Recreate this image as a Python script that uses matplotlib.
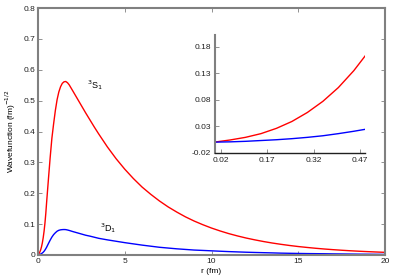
import matplotlib
matplotlib.use("Agg")
import matplotlib.pyplot as plt

plt.rcParams['font.family'] = ['Liberation Sans', 'DejaVu Sans']

r_vals = [0, 0.05, 0.1, 0.15, 0.2, 0.25, 0.3, 0.35, 0.4, 0.45, 0.5, 0.6, 0.7, 0.8, 0.9,
          1.0, 1.1, 1.2, 1.3, 1.4, 1.5, 1.6, 1.7, 1.8, 2.0, 2.25, 2.5, 2.75, 3.0, 3.25,
          3.5, 3.75, 4, 4.5, 5, 5.5, 6, 6.5, 7, 7.5, 8, 8.5, 9, 9.5, 10, 10.5, 11, 11.5,
          12, 12.5, 13, 13.5, 14, 14.5, 15, 15.5, 16, 16.5, 17, 17.5, 18, 18.5, 19,
          19.5, 20]
s1_vals = [0, 0.004, 0.009, 0.016, 0.026, 0.039, 0.056, 0.077, 0.103, 0.135, 0.173, 0.245,
           0.315, 0.378, 0.425, 0.468, 0.503, 0.528, 0.545, 0.556, 0.561, 0.562, 0.558,
           0.551, 0.532, 0.508, 0.484, 0.460, 0.437, 0.414, 0.392, 0.371, 0.350, 0.312,
           0.278, 0.2475, 0.220, 0.1965, 0.175, 0.1558, 0.139, 0.1235, 0.110, 0.0981,
           0.0873, 0.0778, 0.0692, 0.0617, 0.0549, 0.0490, 0.0436, 0.0388, 0.0346,
           0.0308, 0.0274, 0.0245, 0.0218, 0.0194, 0.0173, 0.0154, 0.0137, 0.0122,
           0.0109, 0.0097, 0.0086]
d1_vals = [0, 0.0005, 0.0015, 0.003, 0.0045, 0.0065, 0.009, 0.012, 0.016, 0.0205, 0.0255,
           0.037, 0.048, 0.058, 0.066, 0.072, 0.077, 0.080, 0.0815, 0.0822, 0.0825,
           0.0822, 0.081, 0.0795, 0.076, 0.072, 0.068, 0.064, 0.061, 0.0575, 0.054,
           0.0515, 0.049, 0.0445, 0.040, 0.036, 0.032, 0.0285, 0.025, 0.0225, 0.020,
           0.018, 0.016, 0.0148, 0.0135, 0.0122, 0.011, 0.010, 0.009, 0.0082, 0.0075,
           0.0068, 0.006, 0.0055, 0.005, 0.0046, 0.0043, 0.004, 0.0036, 0.0033, 0.003,
           0.0027, 0.0025, 0.0022, 0.002]

main_xticks = [0, 5, 10, 15, 20]
main_yticks = [0, 0.1, 0.2, 0.3, 0.4, 0.5, 0.6, 0.7, 0.8]
main_ylabels = ['0', '0.1', '0.2', '0.3', '0.4', '0.5', '0.6', '0.7', '0.8']
inset_xticks = [0.02, 0.17, 0.32, 0.47]
inset_yticks = [-0.02, 0.03, 0.08, 0.13, 0.18]

fig = plt.figure(figsize=(4.0, 2.8), dpi=100)
ax = fig.add_axes([0.095, 0.0893, 0.8675, 0.8821])
ax.plot(r_vals, s1_vals, color='red', lw=1.0)
ax.plot(r_vals, d1_vals, color='blue', lw=1.0)
ax.set_xlim(0, 20)
ax.set_ylim(0, 0.8)
ax.set_xticks(main_xticks)
ax.set_xticklabels([str(t) for t in main_xticks])
ax.set_yticks(main_yticks)
ax.set_yticklabels(main_ylabels)
for s in ax.spines.values():
    s.set_color('#808080')
    s.set_linewidth(1.5)
ax.tick_params(direction='in', top=True, right=True, length=3, width=0.6,
               color='#808080', labelsize=6, pad=2, labelcolor='#222222')
ax.set_xlabel('r (fm)', fontsize=6, labelpad=2)
ax.set_ylabel('Wavefunction (fm)$^{-1/2}$', fontsize=6, labelpad=4)
ax.text(2.85, 0.55, '$^3$S$_1$', fontsize=6.5, ha='left', va='center')
ax.text(3.6, 0.086, '$^3$D$_1$', fontsize=6.5, ha='left', va='center')

ins = fig.add_axes([0.5375, 0.4546, 0.375, 0.420])
ins.plot(r_vals, s1_vals, color='red', lw=1.0)
ins.plot(r_vals, d1_vals, color='blue', lw=1.0)
ins.set_xlim(0.0016, 0.486)
ins.set_ylim(-0.02, 0.202)
ins.set_xticks(inset_xticks)
ins.set_xticklabels(['%.2f' % t for t in inset_xticks])
ins.set_yticks(inset_yticks)
ins.set_yticklabels(['%.2f' % t for t in inset_yticks])
ins.spines['top'].set_visible(False)
ins.spines['right'].set_visible(False)
ins.spines['left'].set_color('#808080')
ins.spines['left'].set_linewidth(1.5)
ins.spines['bottom'].set_color('#202020')
ins.spines['bottom'].set_linewidth(1.0)
ins.tick_params(direction='in', length=3, width=0.6, color='#808080',
                labelsize=6, pad=3, labelcolor='#222222')

fig.savefig('out.png', dpi=100)
